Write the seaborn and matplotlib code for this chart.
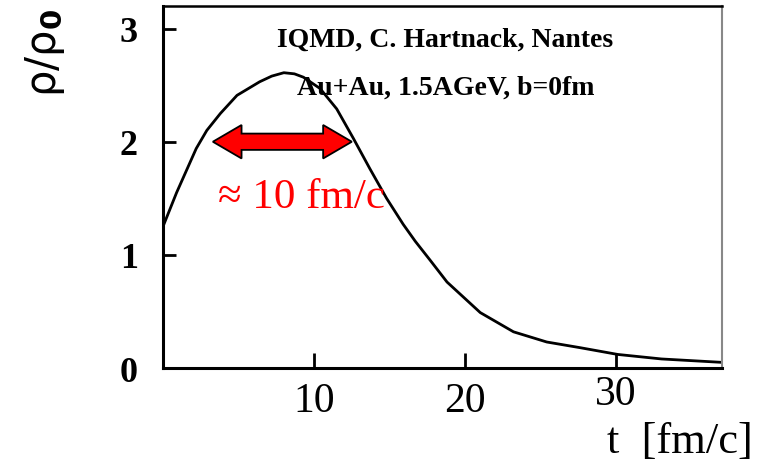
import matplotlib
matplotlib.use("Agg")
import matplotlib.pyplot as plt
from matplotlib.patches import Polygon
import seaborn as sns
import pandas as pd

# density evolution, IQMD Au+Au central
t_vals = [0, 0.9, 1.6, 2.2, 2.9, 3.8, 4.9, 6.4, 7.2, 8.0, 8.7, 9.3, 10.4, 11.5,
          12.6, 13.7, 14.8, 15.9, 16.7, 17.7, 18.8, 21.0, 23.2, 25.4, 27.6, 30.1,
          33.0, 37.0]
rho_vals = [1.25, 1.55, 1.76, 1.94, 2.10, 2.25, 2.41, 2.53, 2.58, 2.61, 2.60, 2.57,
            2.47, 2.29, 2.03, 1.76, 1.50, 1.27, 1.12, 0.95, 0.76, 0.49, 0.32, 0.23,
            0.18, 0.12, 0.08, 0.05]
x_ticks = [10, 20, 30]
y_ticks = [1, 2, 3]
y_ticklabels = ["0", "1", "2", "3"]

# width of the high density phase
arrow_start, arrow_end, arrow_level = 3.3, 12.5, 2.0

sns.set_style("white")
plt.rcParams["font.family"] = ["Liberation Serif", "DejaVu Serif"]
plt.rcParams["mathtext.fontset"] = "dejavusans"
plt.rcParams["text.color"] = "black"
plt.rcParams["axes.labelcolor"] = "black"
plt.rcParams["xtick.color"] = "black"
plt.rcParams["ytick.color"] = "black"

df = pd.DataFrame({"t": t_vals, "rho": rho_vals})

fig = plt.figure(figsize=(7.67, 4.64), dpi=100)
ax = fig.add_axes([0.2125, 0.2047, 0.7288, 0.7803])

sns.lineplot(data=df, x="t", y="rho", color="black", lw=2.0, ax=ax)

ax.set_xlim(0, 37)
ax.set_ylim(0, 3.2)

ax.set_xticks(x_ticks)
ax.set_xticklabels([str(v) for v in x_ticks], fontsize=30)
ax.set_yticks([0] + y_ticks)
ax.set_yticklabels(y_ticklabels, fontsize=26, fontweight="bold")
ax.tick_params(axis="x", bottom=True, direction="in", length=11, width=2, pad=10)
ax.tick_params(axis="y", left=True, direction="in", length=9, width=2, pad=18)
ax.yaxis.get_major_ticks()[0].tick1line.set_visible(False)
# "30" sits a little higher in the original
ax.xaxis.get_major_ticks()[2].label1.set_y(0.02)

for side in ["left", "bottom"]:
    ax.spines[side].set_linewidth(2.2)
    ax.spines[side].set_color("black")
ax.spines["top"].set_linewidth(1.8)
ax.spines["top"].set_color("black")
ax.spines["right"].set_linewidth(1.5)
ax.spines["right"].set_color("#888888")

ax.set_xlabel("t  [fm/c]", fontsize=32, ha="right", va="baseline")
ax.xaxis.set_label_coords(1.055, -0.232)
ax.set_ylabel(r"$\mathrm{\rho}/\mathrm{\rho}_{\mathbf{0}}$", fontsize=30,
              family=["DejaVu Sans"])
ax.yaxis.set_label_coords(-0.172, 0.872)

ax.text(0.505, 0.909, "IQMD, C. Hartnack, Nantes", transform=ax.transAxes,
        fontsize=20, fontweight="bold", ha="center", va="center")
ax.text(0.505, 0.776, "Au+Au, 1.5AGeV, b=0fm", transform=ax.transAxes,
        fontsize=20, fontweight="bold", ha="center", va="center")

# double headed fat arrow
body, head, head_len = 0.072, 0.148, 1.9
verts = [
    (arrow_start, arrow_level),
    (arrow_start + head_len, arrow_level + head),
    (arrow_start + head_len, arrow_level + body),
    (arrow_end - head_len, arrow_level + body),
    (arrow_end - head_len, arrow_level + head),
    (arrow_end, arrow_level),
    (arrow_end - head_len, arrow_level - head),
    (arrow_end - head_len, arrow_level - body),
    (arrow_start + head_len, arrow_level - body),
    (arrow_start + head_len, arrow_level - head),
]
ax.add_patch(Polygon(verts, closed=True, facecolor="#ff0000", edgecolor="black",
                     lw=1.3, zorder=3))
ax.text(9.17, 1.51, "\u2248 10 fm/c", color="#ff0000",
        fontsize=31, ha="center", va="center")

fig.savefig("out.png", dpi=100)
